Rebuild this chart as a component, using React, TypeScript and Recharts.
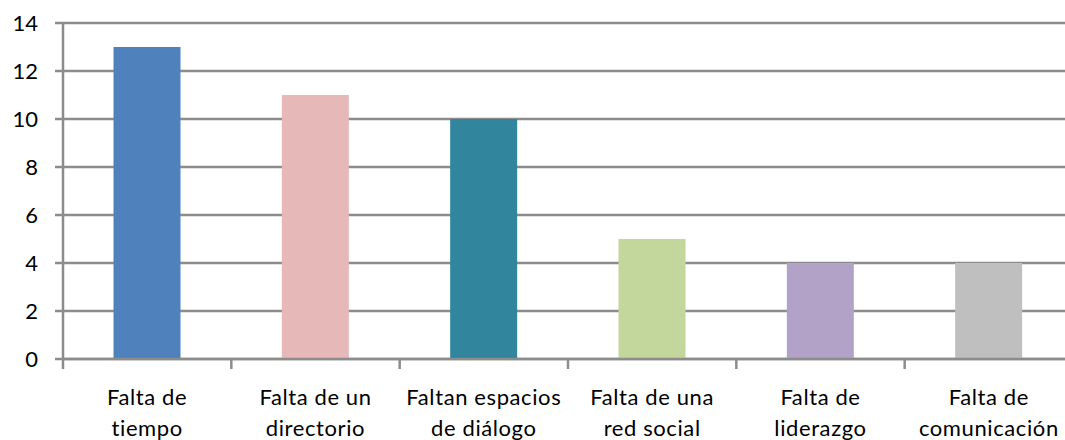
import * as React from 'react';
import { BarChart, Bar, XAxis, YAxis, CartesianGrid, Cell } from 'recharts';

const categories = [
  'Falta de|tiempo',
  'Falta de un|directorio',
  'Faltan espacios|de diálogo',
  'Falta de una|red social',
  'Falta de|liderazgo',
  'Falta de|comunicación',
];
const values = [13, 11, 10, 5, 4, 4];
const colors = ['#4F81BD', '#E6B9B8', '#31859C', '#C3D69B', '#B3A2C7', '#BFBFBF'];
const yTicks = [0, 2, 4, 6, 8, 10, 12, 14];
const boundaryTicks = [0, 1, 2, 3, 4, 5, 6];

const data = categories.map((c, i) => ({ name: c, value: values[i], pos: i + 0.5 }));

const FONT = 'Lato, "Open Sans", sans-serif';
const GRID = '#8c8c8c';

function CategoryTick({ x, y, payload }: any) {
  const lines = String(payload.value).split('|');
  return (
    <text x={x} y={y} textAnchor="middle" fill="#000" fontFamily={FONT} fontSize={22} letterSpacing={0.6}>
      {lines.map((l, i) => (
        <tspan key={i} x={x} dy={i === 0 ? 38 : 31}>{l}</tspan>
      ))}
    </text>
  );
}

export default function App() {
  return (
    <div style={{ position: 'absolute', left: 0, top: 0, width: 1065, height: 440, overflow: 'hidden', background: '#fff' }}>
      <BarChart
        width={1073}
        height={440}
        data={data}
        margin={{ top: 23, right: 0, bottom: 0, left: 0 }}
        barCategoryGap="30%"
      >
        <CartesianGrid vertical={false} stroke={GRID} strokeWidth={2.5} />
        <XAxis
          dataKey="name"
          interval={0}
          height={1}
          axisLine={{ stroke: GRID, strokeWidth: 2.5 }}
          tickLine={false}
          tick={<CategoryTick />}
        />
        <XAxis
          xAxisId="edges"
          type="number"
          dataKey="pos"
          domain={[0, 6]}
          ticks={boundaryTicks}
          height={80}
          axisLine={false}
          tickLine={{ stroke: GRID, strokeWidth: 2.5 }}
          tickSize={9}
          tick={{ fontSize: 0, fill: 'none' }}
          tickFormatter={() => ''}
        />
        <YAxis
          width={63}
          domain={[0, 14]}
          ticks={yTicks}
          interval={0}
          axisLine={{ stroke: GRID, strokeWidth: 2.5 }}
          tickLine={{ stroke: GRID, strokeWidth: 2.5 }}
          tickSize={8}
          tickMargin={17}
          tick={{ fill: '#000', fontFamily: FONT, fontSize: 22 }}
        />
        <Bar dataKey="value" isAnimationActive={false}>
          {data.map((d, i) => (
            <Cell key={d.name} fill={colors[i]} />
          ))}
        </Bar>
      </BarChart>
    </div>
  );
}
